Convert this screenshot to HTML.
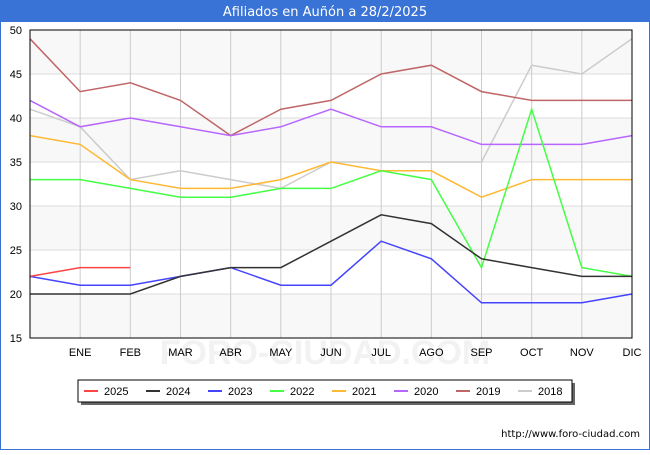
<!DOCTYPE html>
<html><head><meta charset="utf-8"><style>
body{margin:0;background:#fff;font-family:"Liberation Sans","DejaVu Sans",sans-serif}
</style></head><body>
<svg width="650" height="450" xmlns="http://www.w3.org/2000/svg">
<rect x="0" y="0" width="650" height="450" fill="#fff" stroke="#3a73d6" stroke-width="2"/>
<rect x="0" y="0" width="650" height="22" fill="#3a73d6"/>
<text x="325" y="16" text-anchor="middle" fill="#fff" font-size="13" font-family="DejaVu Sans, sans-serif">Afiliados en Auñón a 28/2/2025</text>
<text x="325" y="364" text-anchor="middle" fill="#f2f2f2" font-size="34" font-weight="bold">FORO-CIUDAD.COM</text>
<g id="plot"></g>
<g id="legend"></g>
<text x="640" y="437" text-anchor="end" font-size="10" font-family="DejaVu Sans, sans-serif" fill="#000">http://www.foro-ciudad.com</text>
</svg>
<script>
const months=["","ENE","FEB","MAR","ABR","MAY","JUN","JUL","AGO","SEP","OCT","NOV","DIC"];
const yTicks=[15,20,25,30,35,40,45,50];
const seriesNames=["2025","2024","2023","2022","2021","2020","2019","2018"];
const seriesColors=["#ff4444","#333333","#4444ff","#44ff44","#ffb833","#b866ff","#c06666","#cccccc"];
const s2025=[22,23,23];
const s2024=[20,20,20,22,23,23,26,29,28,24,23,22,22];
const s2023=[22,21,21,22,23,21,21,26,24,19,19,19,20];
const s2022=[33,33,32,31,31,32,32,34,33,23,41,23,22];
const s2021=[38,37,33,32,32,33,35,34,34,31,33,33,33];
const s2020=[42,39,40,39,38,39,41,39,39,37,37,37,38];
const s2019=[49,43,44,42,38,41,42,45,46,43,42,42,42];
const s2018=[41,39,33,34,33,32,35,35,35,35,46,45,49];
const seriesData=[s2025,s2024,s2023,s2022,s2021,s2020,s2019,s2018];
const NS="http://www.w3.org/2000/svg";
const L=30,R=632,T=30,B=338,yMin=15,yMax=50;
const X=i=>L+i*(R-L)/12;
const Y=v=>B-(v-yMin)*(B-T)/(yMax-yMin);
function mk(tag,attrs,parent){const e=document.createElementNS(NS,tag);for(const k in attrs)e.setAttribute(k,attrs[k]);parent.appendChild(e);return e;}
const plot=document.getElementById('plot');
for(let i=0;i<yTicks.length-1;i++){
  if(i%2===0){const r=mk('rect',{x:L,y:Y(yTicks[i+1]),width:R-L,height:Y(yTicks[i])-Y(yTicks[i+1]),fill:'#f7f7f7','fill-opacity':0.85},plot);
  
  }
}
yTicks.forEach(t=>{
  const g=mk('line',{x1:L,x2:R,y1:Y(t),y2:Y(t),stroke:'#dddddd'},plot);
  
  
  const tx=mk('text',{x:L-8,y:Y(t)+4,'text-anchor':'end','font-size':11,fill:'#000'},plot);
  tx.textContent=t;
  
  
});
months.forEach((m,i)=>{
  if(i>0){const g=mk('line',{x1:X(i),x2:X(i),y1:T,y2:B,stroke:'#cccccc'},plot);
  
  }
  const tx=mk('text',{x:X(i),y:B+18,'text-anchor':'middle','font-size':11,fill:'#000'},plot);
  tx.textContent=m;
  
  
});
for(let s=seriesData.length-1;s>=0;s--){
  const pts=seriesData[s].map((v,i)=>X(i)+','+Y(v)).join(' ');
  const pl=mk('polyline',{points:pts,fill:'none',stroke:seriesColors[s],'stroke-width':1.5},plot);
  
  
}
const ax=mk('rect',{x:L,y:T,width:R-L,height:B-T,fill:'none',stroke:'#000'},plot);


const lg=document.getElementById('legend');
const sh=mk('rect',{x:81,y:383,width:494,height:22,fill:'#666'},lg);


const lb=mk('rect',{x:78,y:380,width:494,height:22,fill:'#fff',stroke:'#000'},lg);


seriesNames.forEach((n,i)=>{
  const x0=84+i*62;
  const ln=mk('line',{x1:x0,x2:x0+14,y1:391,y2:391,stroke:seriesColors[i],'stroke-width':2},lg);
  
  
  const tx=mk('text',{x:x0+20,y:395,'font-size':11,fill:'#000'},lg);
  tx.textContent=n;
  
  
});
</script>
</body></html>
